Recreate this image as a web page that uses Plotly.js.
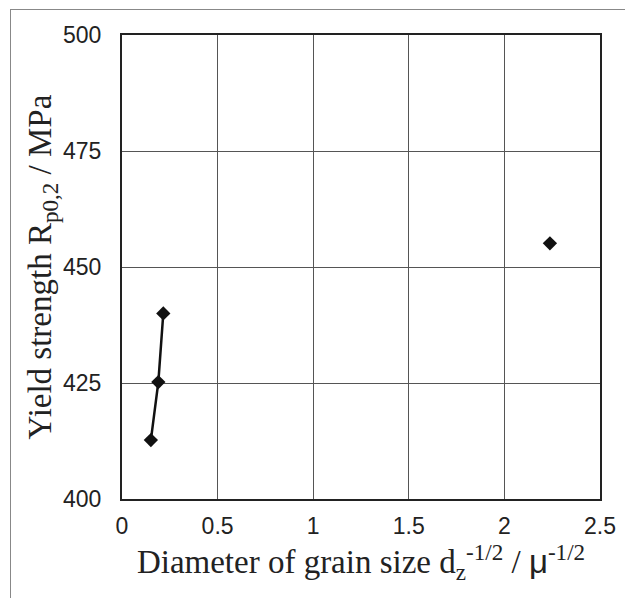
<!DOCTYPE html>
<html>
<head>
<meta charset="utf-8">
<script src="https://cdn.plot.ly/plotly-3.0.1.min.js"></script>
<style>
html,body{margin:0;padding:0;background:#fff;}
#frame{position:absolute;left:10px;top:9px;width:640px;height:620px;border-left:1.5px solid #888;border-top:1.5px solid #888;}
#chart{position:absolute;left:0;top:0;width:625px;height:598px;}
</style>
</head>
<body>
<div id="frame"></div>
<div id="chart"></div>
<script>
const lineX = [0.151, 0.190, 0.216];
const lineY = [412.7, 425.2, 440.0];
const pointsX = [0.151, 0.190, 0.216, 2.238];
const pointsY = [412.7, 425.2, 440.0, 455.1];
const xTicks = [0, 0.5, 1, 1.5, 2, 2.5];
const yTicks = [400, 425, 450, 475, 500];

const traces = [
  {x: lineX, y: lineY, mode: 'lines', line: {color: '#111', width: 2.5}, hoverinfo: 'skip', showlegend: false},
  {x: pointsX, y: pointsY, mode: 'markers', marker: {symbol: 'diamond', size: 11, color: '#111'}, showlegend: false}
];

const tickFont = {family: 'Liberation Sans', size: 23, color: '#222'};
const titleFont = {family: 'Liberation Serif', size: 33, color: '#222'};

const layout = {
  width: 625, height: 598,
  paper_bgcolor: 'rgba(0,0,0,0)', plot_bgcolor: '#fff',
  margin: {l: 122, r: 25, t: 35, b: 99},
  showlegend: false,
  xaxis: {
    range: [0, 2.5], tickvals: xTicks, ticktext: xTicks.map(String),
    showgrid: true, gridcolor: '#555', gridwidth: 1,
    showline: true, linecolor: '#222', linewidth: 2, mirror: true,
    ticks: '', zeroline: false, ticklabelstandoff: 5,
    tickfont: tickFont,
    title: {text: 'Diameter of grain size d<sub>z</sub><sup>-1/2</sup> / <span style="font-family:Liberation Sans">μ</span><sup>-1/2</sup>',
            font: titleFont, standoff: 8}
  },
  yaxis: {
    range: [400, 500], tickvals: yTicks, ticktext: yTicks.map(String),
    showgrid: true, gridcolor: '#555', gridwidth: 1,
    showline: true, linecolor: '#222', linewidth: 2, mirror: true,
    ticks: '', zeroline: false, ticklabelstandoff: 14,
    tickfont: tickFont,
    title: {text: 'Yield strength R<sub>p0,2</sub> / MPa',
            font: titleFont, standoff: 0}
  }
};

Plotly.newPlot('chart', traces, layout, {displayModeBar: false, staticPlot: true});
</script>
</body>
</html>
